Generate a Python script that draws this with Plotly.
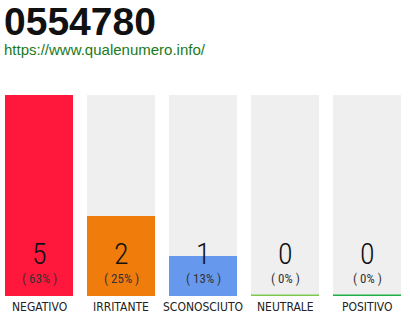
import plotly.graph_objects as go

title_text = "0554780"
url_text = "https://www.qualenumero.info/"
categories = ["NEGATIVO", "IRRITANTE", "SCONOSCIUTO", "NEUTRALE", "POSITIVO"]
counts = [5, 2, 1, 0, 0]
percents = ["( 63% )", "( 25% )", "( 13% )", "( 0% )", "( 0% )"]
colors = ["#ff173c", "#f07c0c", "#6699ee", "#7ec850", "#1fae48"]

xs = list(range(len(categories)))
vmax = max(counts)
bw = 68 / 82

fig = go.Figure()
fig.add_trace(go.Bar(x=xs, y=[vmax] * len(xs), width=bw, marker_color="#efefef",
                     marker_line_width=0, hoverinfo="skip"))
fig.add_trace(go.Bar(x=xs, y=counts, width=bw, marker_color=colors,
                     marker_line_width=0))
for i, c in enumerate(counts):
    if c == 0:
        fig.add_trace(go.Scatter(x=[i - bw / 2, i + bw / 2], y=[0, 0], mode="lines",
                                 line=dict(color=colors[i], width=3), hoverinfo="skip"))

def cond(s):
    return '<span style="font-stretch:condensed">' + s + '</span>'

ann = []
for i, (cat, c, p) in enumerate(zip(categories, counts, percents)):
    ann.append(dict(x=i, y=0, xref="x", yref="y", text=cond(str(c)), showarrow=False,
                    yanchor="middle", yshift=43,
                    font=dict(family="Roboto, sans-serif", size=30, weight=300, color="#111")))
    ann.append(dict(x=i, y=0, xref="x", yref="y", text=cond(p), showarrow=False,
                    yanchor="middle", yshift=18,
                    font=dict(family="Roboto, sans-serif", size=13, weight=400, color="#333")))
    ann.append(dict(x=i, y=0, xref="x", yref="y", text=cond(cat), showarrow=False,
                    yanchor="middle", yshift=-11,
                    font=dict(family="DejaVu Sans, sans-serif", size=12, color="#222")))

ann.append(dict(x=0, y=1, xref="paper", yref="paper", text="<b>" + title_text + "</b>",
                showarrow=False, xanchor="left", yanchor="middle", xshift=2, yshift=74,
                font=dict(family="Liberation Sans, Arial, sans-serif", size=39, color="#111")))
ann.append(dict(x=0, y=1, xref="paper", yref="paper", text=url_text,
                showarrow=False, xanchor="left", yanchor="middle", xshift=2, yshift=45.5,
                font=dict(family="Liberation Sans, Arial, sans-serif", size=15, color="#1a7a1a")))

fig.update_layout(
    width=410, height=320, margin=dict(l=0, r=0, t=95, b=24),
    paper_bgcolor="white", plot_bgcolor="white", showlegend=False,
    barmode="overlay", bargap=0,
    xaxis=dict(range=[-39 / 82, -39 / 82 + 410 / 82], visible=False, fixedrange=True),
    yaxis=dict(range=[0, vmax], visible=False, fixedrange=True),
    annotations=ann,
)
fig.write_html("out.html")
